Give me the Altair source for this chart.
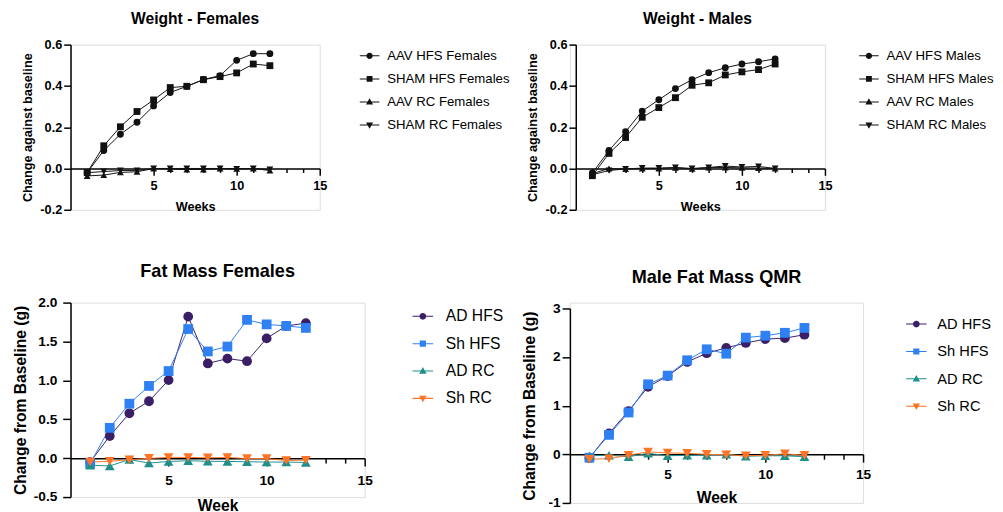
import altair as alt
import pandas as pd

FONT = "Liberation Sans"

weeks = [1, 2, 3, 4, 5, 6, 7, 8, 9, 10, 11, 12]

# ---- Weight - Females
wf_labels = ["AAV HFS Females", "SHAM HFS Females", "AAV RC Females", "SHAM RC Females"]
wf_aav_hfs = [-0.02, 0.087, 0.166, 0.224, 0.303, 0.368, 0.398, 0.431, 0.45, 0.524, 0.556, 0.556]
wf_sham_hfs = [-0.02, 0.11, 0.202, 0.276, 0.332, 0.392, 0.398, 0.43, 0.445, 0.463, 0.506, 0.498]
wf_aav_rc = [-0.036, -0.032, -0.019, -0.016, 0.0, -0.003, -0.005, -0.005, 0.0, -0.002, 0.0, -0.01]
wf_sham_rc = [-0.02, -0.015, -0.01, -0.01, 0.0, 0.0, 0.0, 0.0, 0.0, -0.002, 0.0, -0.005]

# ---- Weight - Males
wm_labels = ["AAV HFS Males", "SHAM HFS Males", "AAV RC Males", "SHAM RC Males"]
wm_aav_hfs = [-0.022, 0.087, 0.178, 0.278, 0.333, 0.387, 0.43, 0.464, 0.488, 0.506, 0.517, 0.531]
wm_sham_hfs = [-0.035, 0.073, 0.15, 0.248, 0.295, 0.343, 0.403, 0.415, 0.453, 0.468, 0.479, 0.506]
wm_aav_rc = [-0.025, 0.0, -0.003, 0.0, 0.0, 0.003, -0.002, 0.004, 0.005, 0.003, 0.002, 0.0]
wm_sham_rc = [-0.03, -0.01, -0.002, 0.002, 0.002, 0.005, 0.0, 0.005, 0.012, 0.007, 0.01, 0.0]

# ---- Fat Mass Females
ff_labels = ["AD HFS", "Sh HFS", "AD RC", "Sh RC"]
ff_ad_hfs = [-0.05, 0.285, 0.577, 0.732, 1.004, 1.82, 1.218, 1.28, 1.247, 1.54, 1.70, 1.736]
ff_sh_hfs = [-0.07, 0.39, 0.70, 0.929, 1.12, 1.66, 1.372, 1.435, 1.778, 1.72, 1.70, 1.675]
ff_ad_rc = [-0.09, -0.10, -0.017, -0.063, -0.042, -0.033, -0.04, -0.042, -0.046, -0.05, -0.05, -0.055]
ff_sh_rc = [-0.05, -0.04, -0.02, -0.002, 0.01, 0.01, 0.005, 0.01, -0.005, -0.005, -0.03, -0.025]

# ---- Male Fat Mass QMR
fm_labels = ["AD HFS", "Sh HFS", "AD RC", "Sh RC"]
fm_ad_hfs = [-0.075, 0.43, 0.89, 1.39, 1.61, 1.90, 2.08, 2.19, 2.29, 2.37, 2.39, 2.46]
fm_sh_hfs = [-0.07, 0.40, 0.86, 1.44, 1.62, 1.935, 2.16, 2.07, 2.40, 2.44, 2.50, 2.60]
fm_ad_rc = [-0.03, -0.02, -0.05, 0.02, -0.03, -0.02, -0.02, 0.0, -0.04, -0.03, -0.03, -0.05]
fm_sh_rc = [-0.10, -0.09, -0.02, 0.05, 0.03, 0.02, 0.0, -0.01, -0.03, -0.02, 0.01, -0.02]

black4 = ["#111111", "#111111", "#111111", "#111111"]
color4 = ["#3b1f66", "#2f80f2", "#1f8f8c", "#ff7426"]
shapes4 = ["circle", "square", "triangle-up", "triangle-down"]

LINE = "M-1,-0.05H1V0.05H-1Z"
legend_paths = [
    LINE + "M0.33,0A0.33,0.33,0,1,1,-0.33,0A0.33,0.33,0,1,1,0.33,0Z",
    LINE + "M-0.3,-0.3H0.3V0.3H-0.3Z",
    LINE + "M0,-0.38L0.36,0.26H-0.36Z",
    LINE + "M0,0.38L-0.36,-0.26H0.36Z",
]

MINUS_FIX = "replace(format(datum.value, '{f}'), '\u2212', '-')"


def panel(title, labels, series, colors, c):
    rows = []
    for lab, vals in zip(labels, series):
        for w, v in zip(weeks, vals):
            rows.append({"week": w, "value": v, "series": lab})
    df = pd.DataFrame(rows)
    leg_df = pd.DataFrame({"lg": labels})

    xs = dict(domain=[0, 15], nice=False, zero=False)
    if "xrange" in c:
        xs["range"] = c["xrange"]
    ys = dict(domain=c["ydomain"], nice=False, zero=False)
    if "yrange" in c:
        ys["range"] = c["yrange"]
    xscale = alt.Scale(**xs)
    yscale = alt.Scale(**ys)

    common = dict(domainColor="black", domainWidth=1.5, tickColor="black", tickWidth=1.5,
                  labelFont=FONT, labelFontWeight="bold", labelColor="black",
                  titleFont=FONT, titleFontWeight="bold", titleColor="black",
                  grid=False, labelOverlap=False, labelFlush=False)

    x_main = alt.Axis(values=[5, 10, 15], orient="bottom", offset=c["xoff"], tickSize=c["tick"],
                      labelFontSize=c["lab"], labelPadding=c["xlp"], title=c["xtitle"],
                      titleFontSize=c["atitle"], titlePadding=c["xtp"], **common)
    x_minor = alt.Axis(values=[1, 2, 3, 4, 6, 7, 8, 9, 11, 12, 13, 14], orient="bottom",
                       offset=c["xoff"], tickSize=c["mtick"], tickColor="black", tickWidth=1.5,
                       labels=False, domain=False, title=None, grid=False)
    y_axis = alt.Axis(values=c["yvalues"], orient="left", offset=c.get("yoff", 0), tickSize=c["tick"],
                      labelFontSize=c["lab"], labelPadding=c["ylp"],
                      labelExpr=MINUS_FIX.format(f=c["fmt"]), title=c["ytitle"],
                      titleFontSize=c["atitle"], titlePadding=c["ytp"], **common)

    cscale = alt.Scale(domain=labels, range=colors)

    lines = alt.Chart(df).mark_line(strokeWidth=1).encode(
        x=alt.X("week:Q", scale=xscale, axis=x_main),
        y=alt.Y("value:Q", scale=yscale, axis=y_axis),
        color=alt.Color("series:N", scale=cscale, legend=None),
    )
    points = alt.Chart(df).mark_point(filled=True, opacity=1, size=c["msize"]).encode(
        x=alt.X("week:Q", scale=xscale, axis=x_minor),
        y=alt.Y("value:Q", scale=yscale, axis=y_axis),
        color=alt.Color("series:N", scale=cscale, legend=None),
        shape=alt.Shape("series:N", scale=alt.Scale(domain=labels, range=shapes4), legend=None),
    )
    lg = alt.Legend(orient="none", legendX=c["lx"], legendY=c["ly"], title=None,
                    symbolSize=c["ssize"], symbolStrokeWidth=0, symbolOpacity=1,
                    labelFont=FONT, labelFontSize=c["lfs"], labelColor="black",
                    labelOffset=c["loff"], rowPadding=c["rpad"], padding=0)
    legend_layer = alt.Chart(leg_df).transform_filter("false").mark_point(filled=True, opacity=1).encode(
        shape=alt.Shape("lg:N", scale=alt.Scale(domain=labels, range=legend_paths), legend=lg),
        color=alt.Color("lg:N", scale=alt.Scale(domain=labels, range=colors), legend=lg),
    )
    return alt.layer(lines, points, legend_layer).resolve_scale(
        color="independent", shape="independent"
    ).resolve_axis(x="independent").properties(
        width=c["w"], height=c["h"],
        title=alt.TitleParams(title, font=FONT, fontSize=c["tfs"], fontWeight="bold", color="black",
                              anchor="middle", frame="group", offset=c["toff"]),
    )


top = dict(h=169, ydomain=[-0.2, 0.6], yvalues=[-0.2, 0.0, 0.2, 0.4, 0.6], fmt=".1f",
           xoff=-42.25, tick=7, mtick=4, lab=13, xlp=5, ylp=2, atitle=13, xtp=8, ytp=5.5,
           xtitle="Weeks", ytitle="Change against baseline", msize=49, ssize=400, lfs=13.5,
           loff=8, rpad=6.6, tfs=16, toff=12.5, ly=1.5)

p1 = panel("Weight - Females", wf_labels, [wf_aav_hfs, wf_sham_hfs, wf_aav_rc, wf_sham_rc],
           black4, dict(top, w=255, lx=296))
p2 = panel("Weight - Males", wm_labels, [wm_aav_hfs, wm_sham_hfs, wm_aav_rc, wm_sham_rc],
           black4, dict(top, w=261, xrange=[6, 261], yoff=-6, lx=296))

bot = dict(tick=8, mtick=5, lab=14, atitle=16, xtitle="Week", ytitle="Change from Baseline (g)",
           msize=100, ssize=441, rpad=9, tfs=18.5)

p3 = panel("Fat Mass Females", ff_labels, [ff_ad_hfs, ff_sh_hfs, ff_ad_rc, ff_sh_rc], color4,
           dict(bot, w=301, h=199, ydomain=[-0.5, 2.0], yvalues=[-0.5, 0.0, 0.5, 1.0, 1.5, 2.0],
                fmt=".1f", xoff=-39.8, xlp=8, xtp=11, ylp=6, ytp=4.5, lx=350, ly=3.5, lfs=16,
                loff=13, toff=16))
p4 = panel("Male Fat Mass QMR", fm_labels, [fm_ad_hfs, fm_sh_hfs, fm_ad_rc, fm_sh_rc], color4,
           dict(bot, w=300, h=205, yrange=[205, 6], ydomain=[-1, 3], yvalues=[-1, 0, 1, 2, 3],
                fmt="d", xoff=-49.75, xlp=6, xtp=8, ylp=2, ytp=11, lx=344, ly=11.5, lfs=15,
                loff=11, toff=16))

chart = alt.concat(p1, p2, p3, p4, columns=2, spacing={"row": 59, "column": 210},
                   bounds="flush", align="all").properties(
    padding={"left": 4, "top": -3.5, "right": 0, "bottom": 0}
).configure_view(strokeWidth=0, stroke="transparent").configure(font=FONT)

chart.save("out.html", embed_options={"renderer": "svg", "actions": False})
